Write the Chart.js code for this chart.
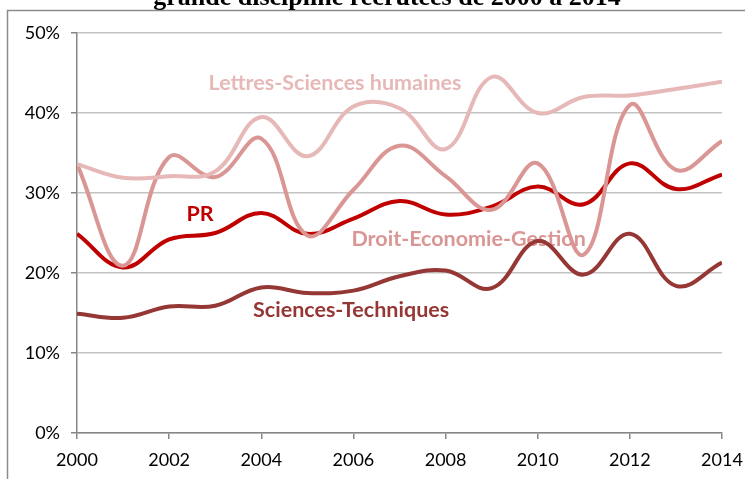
<!DOCTYPE html>
<html>
<head>
<meta charset="utf-8">
<script src="https://cdn.jsdelivr.net/npm/chart.js@4.4.0/dist/chart.umd.min.js"></script>
<style>
    body { margin: 0; background: #fff; }
    canvas { display: block; }
</style>
</head>
<body>
<canvas id="chart" width="745" height="479"></canvas>
<script>
// Données (en %)
const years = [2000, 2001, 2002, 2003, 2004, 2005, 2006, 2007, 2008, 2009, 2010, 2011, 2012, 2013, 2014];
const lettres = [33.6, 31.9, 32.1, 32.7, 39.5, 34.6, 40.8, 40.6, 35.5, 44.5, 40.0, 42.0, 42.2, 43.0, 43.9];
const droit = [33.6, 20.9, 34.5, 32.0, 36.8, 24.7, 30.4, 35.9, 32.1, 27.9, 33.7, 22.3, 41.0, 32.9, 36.5];
const pr = [24.9, 20.7, 24.2, 25.0, 27.5, 24.9, 26.8, 29.0, 27.3, 28.3, 30.8, 28.6, 33.7, 30.5, 32.3];
const sciences = [14.9, 14.4, 15.8, 15.9, 18.2, 17.5, 17.8, 19.6, 20.3, 18.1, 24.0, 19.8, 24.9, 18.4, 21.3];

const yTicks = [0, 10, 20, 30, 40, 50];
const titleText = 'grande discipline recrutées de 2000 à 2014';

// Étiquettes posées sur le graphique (année, %)
const seriesLabels = [
    { text: 'Lettres-Sciences humaines', x: 2005.6, y: 43.7, color: '#e6b9b8' },
    { text: 'PR', x: 2002.67, y: 27.4, color: '#c00000' },
    { text: 'Droit-Economie-Gestion', x: 2008.5, y: 24.2, color: '#d99694' },
    { text: 'Sciences-Techniques', x: 2005.95, y: 15.4, color: '#953735' }
];

const FONT = 'Lato, "Open Sans", sans-serif';

function points(values) {
    return years.map((yr, i) => ({ x: yr, y: values[i] }));
}

function serie(label, values, color) {
    return {
        label: label,
        data: points(values),
        borderColor: color,
        backgroundColor: color,
        borderWidth: 4,
        pointRadius: 0,
        tension: 0.4,
        fill: false
    };
}

// Cadre, titre et étiquettes des séries
const decorPlugin = {
    id: 'decor',
    beforeDraw(chart) {
        const ctx = chart.ctx;
        ctx.save();
        ctx.fillStyle = '#fff';
        ctx.fillRect(0, 0, chart.width, chart.height);
        ctx.strokeStyle = '#8c8c8c';
        ctx.lineWidth = 1.5;
        ctx.beginPath();
        ctx.moveTo(7.5, chart.height);
        ctx.lineTo(7.5, 10.5);
        ctx.lineTo(chart.width, 10.5);
        ctx.stroke();
        ctx.fillStyle = '#000';
        ctx.font = 'bold 26px "Liberation Serif", "Times New Roman", serif';
        ctx.textAlign = 'center';
        ctx.textBaseline = 'alphabetic';
        ctx.fillText(titleText, 387, 5);
        ctx.restore();
    },
    beforeDatasetsDraw(chart) {
        const ctx = chart.ctx;
        const xs = chart.scales.x;
        const ys = chart.scales.y;
        ctx.save();
        ctx.font = 'bold 21.5px ' + FONT;
        ctx.textAlign = 'center';
        ctx.textBaseline = 'middle';
        seriesLabels.forEach(l => {
            ctx.fillStyle = l.color;
            ctx.fillText(l.text, xs.getPixelForValue(l.x), ys.getPixelForValue(l.y));
        });
        ctx.restore();
    }
};

new Chart(document.getElementById('chart'), {
    type: 'line',
    data: {
        datasets: [
            serie('Lettres-Sciences humaines', lettres, '#e6b9b8'),
            serie('Droit-Economie-Gestion', droit, '#d99694'),
            serie('Sciences-Techniques', sciences, '#953735'),
            serie('PR', pr, '#c00000')
        ]
    },
    options: {
        responsive: false,
        animation: false,
        layout: {
            padding: { left: 0, top: 33, right: 23, bottom: 0 }
        },
        plugins: {
            legend: { display: false },
            tooltip: { enabled: false }
        },
        scales: {
            x: {
                type: 'linear',
                min: years[0],
                max: years[years.length - 1],
                ticks: {
                    stepSize: 2,
                    color: '#000',
                    padding: 10,
                    maxRotation: 0,
                    font: { family: FONT, size: 18 },
                    callback: function(value) { return String(value); }
                },
                grid: {
                    drawOnChartArea: false,
                    drawTicks: true,
                    tickLength: 6,
                    color: '#868686',
                    lineWidth: 1.5
                },
                border: { color: '#868686', width: 1.5 },
                afterFit: function(scale) {
                    scale.height = 46;
                    scale.paddingLeft = 0;
                    scale.paddingRight = 0;
                }
            },
            y: {
                min: 0,
                max: 50,
                afterBuildTicks: function(scale) {
                    scale.ticks = yTicks.map(v => ({ value: v }));
                },
                ticks: {
                    color: '#000',
                    padding: 11,
                    font: { family: FONT, size: 18 },
                    callback: function(value) { return value + '%'; }
                },
                grid: {
                    color: '#c3c3c3',
                    tickColor: '#868686',
                    tickLength: 6,
                    lineWidth: 1.5
                },
                border: { color: '#868686', width: 1.5 },
                afterFit: function(scale) {
                    scale.width = 77;
                    scale.paddingTop = 0;
                    scale.paddingBottom = 0;
                }
            }
        }
    },
    plugins: [decorPlugin]
});
</script>
</body>
</html>
